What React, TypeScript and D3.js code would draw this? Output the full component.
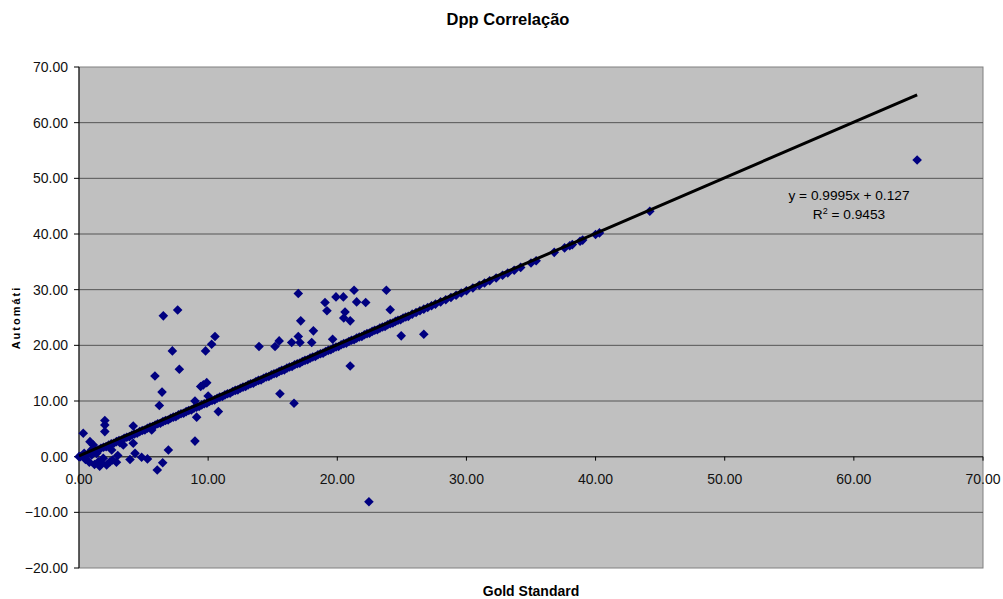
import React from "react";
import * as d3 from "d3";

// points lying on / near the diagonal (Gold Standard, Automático)
const linePoints: [number, number][] = [
  [0.1, 0.0], [0.3, 0.2], [0.5, 0.3], [0.7, 0.5], [0.9, 0.7], [1.1, 0.9], [1.3, 1.1], [1.5, 1.2],
  [1.7, 1.5], [1.9, 1.7], [2.1, 1.8], [2.3, 2.1], [2.5, 2.3], [2.7, 2.4], [2.9, 2.7], [3.1, 2.9],
  [3.3, 3.0], [3.5, 3.3], [3.7, 3.5], [3.9, 3.6], [4.1, 3.9], [4.3, 4.1], [4.5, 4.2], [4.7, 4.5],
  [4.9, 4.7], [5.1, 4.8], [5.3, 5.1], [5.5, 5.3], [5.7, 5.4], [5.9, 5.7], [6.1, 5.9], [6.3, 6.0],
  [6.5, 6.3], [6.7, 6.5], [6.9, 6.6], [7.1, 6.9], [7.3, 7.1], [7.5, 7.2], [7.7, 7.5], [7.9, 7.7],
  [8.1, 7.8], [8.3, 8.1], [8.5, 8.3], [8.7, 8.4], [8.9, 8.7], [9.1, 8.9], [9.3, 9.0], [9.5, 9.3],
  [9.7, 9.5], [9.9, 9.6], [10.1, 9.9], [10.3, 10.1], [10.5, 10.2], [10.7, 10.5], [10.9, 10.7],
  [11.1, 10.8], [11.3, 11.1], [11.5, 11.3], [11.7, 11.4], [11.9, 11.7], [12.1, 11.9], [12.3, 12.0],
  [12.5, 12.3], [12.7, 12.5], [12.9, 12.6], [13.1, 12.9], [13.3, 13.1], [13.5, 13.2], [13.7, 13.5],
  [13.9, 13.7], [14.1, 13.8], [14.3, 14.1], [14.5, 14.3], [14.7, 14.4], [14.9, 14.7], [15.1, 14.9],
  [15.3, 15.0], [15.5, 15.3], [15.7, 15.5], [15.9, 15.6], [16.1, 15.9], [16.3, 16.1], [16.5, 16.2],
  [16.7, 16.5], [16.9, 16.7], [17.1, 16.8], [17.3, 17.1], [17.5, 17.3], [17.7, 17.4], [17.9, 17.7],
  [18.1, 17.9], [18.3, 18.0], [18.5, 18.3], [18.7, 18.5], [18.9, 18.6], [19.1, 18.9], [19.3, 19.1],
  [19.5, 19.2], [19.7, 19.5], [19.9, 19.7], [20.1, 19.8], [20.3, 20.1], [20.5, 20.3], [20.7, 20.4],
  [20.9, 20.7], [21.1, 20.9], [21.3, 21.0], [21.5, 21.3], [21.7, 21.5], [21.9, 21.6], [22.1, 21.9],
  [22.3, 22.1], [22.5, 22.2], [22.7, 22.5], [22.9, 22.7], [23.1, 22.8], [23.3, 23.1], [23.5, 23.3],
  [23.7, 23.4], [23.9, 23.7], [24.1, 23.9], [24.3, 24.0], [24.5, 24.3], [24.7, 24.5], [24.9, 24.6],
  [25.1, 24.9], [25.3, 25.1], [25.5, 25.2], [25.8, 25.6], [26.1, 25.9], [26.4, 26.2], [26.7, 26.5],
  [27.0, 26.8], [27.3, 27.1], [27.6, 27.4], [28.0, 27.8], [28.4, 28.2], [28.8, 28.6], [29.2, 29.0],
  [29.6, 29.4], [30.0, 29.8], [30.5, 30.3], [31.0, 30.8], [31.4, 31.2], [31.8, 31.6], [32.3, 32.1],
  [32.8, 32.6], [33.2, 33.0], [33.7, 33.5], [34.2, 34.0], [35.0, 34.8], [35.4, 35.2], [36.8, 36.7],
  [37.6, 37.5], [38.0, 37.9], [38.2, 38.1], [38.8, 38.7], [39.0, 38.9], [40.0, 39.9], [40.3, 40.2],
  [44.2, 44.1], [64.9, 53.3],
];

// scattered points away from the diagonal
const outliers: [number, number][] = [
  [0.0, 0.0], [0.33, 4.2], [0.85, 2.7], [0.98, 0.3], [1.11, 2.1], [1.37, 0.6], [1.5, -0.9],
  [1.75, -1.2], [1.88, -0.3], [2.0, 6.5], [2.0, 5.7], [2.0, 4.5], [2.14, -1.5], [2.4, -0.9],
  [2.53, 1.2], [2.9, -1.0], [3.17, 2.5], [3.43, 2.1], [3.95, -0.5], [4.2, 2.4], [4.2, 5.5],
  [4.34, 0.6], [4.85, -0.1], [5.3, -0.4], [5.63, 4.8], [5.88, 14.5], [6.06, -2.4], [6.22, 9.2],
  [6.43, 11.6], [6.48, -1.1], [6.53, 25.3], [6.92, 1.2], [7.23, 19.0], [7.64, 26.35], [7.77, 15.7],
  [8.98, 2.8], [8.98, 10.0], [9.11, 7.1], [9.42, 12.6], [9.63, 12.9], [9.89, 13.3], [9.8, 19.0],
  [10.0, 10.9], [10.27, 20.2], [10.53, 21.6], [10.79, 8.1], [13.94, 19.8], [15.18, 19.8],
  [15.5, 20.8], [15.56, 11.3], [16.47, 20.5], [16.65, 9.6], [16.98, 29.3], [16.98, 21.6],
  [17.11, 20.5], [17.17, 24.4], [18.02, 20.5], [18.15, 22.6], [19.05, 27.7], [19.2, 26.2],
  [19.64, 21.1], [19.9, 28.7], [20.47, 28.7], [20.5, 24.9], [20.6, 26.0], [21.0, 24.4],
  [21.0, 16.3], [21.3, 29.9], [21.5, 27.8], [22.2, 27.7], [22.45, -8.1], [23.8, 29.9],
  [24.1, 26.4], [24.95, 21.7], [26.7, 22.0],
  [0.5, -0.5], [0.8, -1.0], [1.2, -1.4], [1.6, -1.7], [2.6, -0.6], [3.0, 0.2], [0.4, 0.6], [1.0, 1.3],
];

const xTicks = [0, 10, 20, 30, 40, 50, 60, 70];
const yTicks = [-20, -10, 0, 10, 20, 30, 40, 50, 60, 70];
const slope = 0.9995;
const intercept = 0.127;
const rSquared = "0.9453";

const FONT = "Arial, 'Liberation Sans', sans-serif";

export default function App() {
  const width = 1003;
  const height = 599;
  const plot = { left: 79, top: 67, right: 983, bottom: 568 };

  const x = d3.scaleLinear().domain([0, 70]).range([plot.left, plot.right]);
  const y = d3.scaleLinear().domain([-20, 70]).range([plot.bottom, plot.top]);

  const fmt = d3.format(".2f");
  const allPoints = [...linePoints, ...outliers];
  const xMax = d3.max(allPoints, (d) => d[0]) as number;

  const trend = d3.line<number>()
    .x((v) => x(v))
    .y((v) => y(slope * v + intercept));

  const diamond = "M0,-4.8L4.8,0L0,4.8L-4.8,0Z";

  return (
    <svg
      width={width}
      height={height}
      style={{ position: "absolute", left: 0, top: 0, background: "#fff" }}
      fontFamily={FONT}
    >
      <text x={508} y={25} textAnchor="middle" fontSize={16.5} fontWeight="bold">
        Dpp Correlação
      </text>

      {/* plot area */}
      <rect
        x={plot.left}
        y={plot.top}
        width={plot.right - plot.left}
        height={plot.bottom - plot.top}
        fill="#c0c0c0"
        stroke="#808080"
      />

      {yTicks.map((t) => (
        <g key={t}>
          {t !== 0 && t !== 70 && t !== -20 && (
            <line x1={plot.left} x2={plot.right} y1={y(t)} y2={y(t)} stroke="#555" strokeWidth={1} />
          )}
          <line x1={plot.left - 5} x2={plot.left} y1={y(t)} y2={y(t)} stroke="#000" />
          <text x={68} y={y(t) + 5} textAnchor="end" fontSize={14} fill="#111">
            {fmt(t)}
          </text>
        </g>
      ))}

      {/* x axis at y = 0 */}
      <line x1={plot.left} x2={plot.right} y1={y(0)} y2={y(0)} stroke="#3a3a3a" strokeWidth={1.5} />
      {xTicks.map((t) => (
        <g key={t}>
          <line x1={x(t)} x2={x(t)} y1={y(0)} y2={y(0) + 4} stroke="#000" />
          <text x={x(t)} y={y(0) + 27} textAnchor="middle" fontSize={14} fill="#111">
            {fmt(t)}
          </text>
        </g>
      ))}
      <line x1={plot.left} x2={plot.left} y1={plot.top} y2={plot.bottom} stroke="#000" />

      {allPoints.map((d, i) => (
        <path key={i} d={diamond} transform={`translate(${x(d[0])},${y(d[1])})`} fill="#000080" />
      ))}

      <path d={trend([0, xMax]) || ""} stroke="#000" strokeWidth={3} fill="none" />

      <text x={849} y={200} textAnchor="middle" fontSize={13.7} fill="#000">
        y = {slope}x + {intercept}
      </text>
      <text x={849} y={219} textAnchor="middle" fontSize={13.7} fill="#000">
        R<tspan dy={-5} fontSize={9}>2</tspan>
        <tspan dy={5}> = {rSquared}</tspan>
      </text>

      <text x={531} y={596} textAnchor="middle" fontSize={14} fontWeight="bold">
        Gold Standard
      </text>
      <text
        transform={`translate(20,${(plot.top + plot.bottom) / 2}) rotate(-90)`}
        textAnchor="middle"
        fontSize={11}
        fontWeight="bold"
        letterSpacing={2}
      >
        Automáti
      </text>
    </svg>
  );
}
